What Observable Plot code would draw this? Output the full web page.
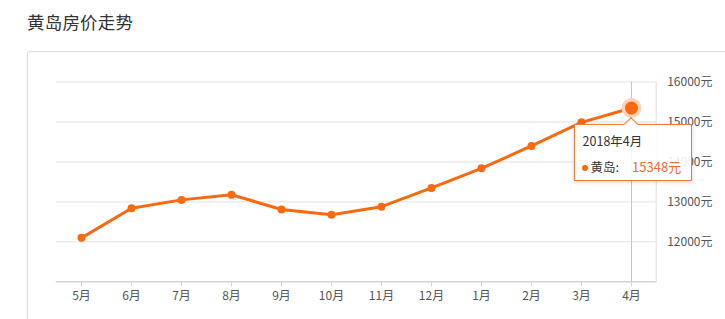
<!DOCTYPE html>
<html>
<head>
<meta charset="utf-8">
<script src="https://cdn.jsdelivr.net/npm/d3@7"></script>
<script src="https://cdn.jsdelivr.net/npm/@observablehq/plot@0.6"></script>
<style>
  html, body { margin: 0; padding: 0; background: #fff; }
  body { width: 725px; height: 319px; overflow: hidden; font-family: "Noto Sans CJK SC", "Noto Sans", sans-serif; }
  #wrap { position: relative; width: 725px; height: 319px; overflow: hidden; }
  #title { position: absolute; left: 27px; top: 9px; font-size: 17.5px; color: #333; line-height: 26px; letter-spacing: 0.2px; }
  #frame { position: absolute; left: 27px; top: 51px; width: 760px; height: 320px; border: 1px solid #dcdcdc; border-radius: 3px; box-sizing: border-box; }
  #chart { position: absolute; left: 0; top: 0; }
  #chart svg { overflow: visible; }
  #tip { position: absolute; width: 118px; height: 57px; box-sizing: border-box; border: 1px solid #ec7b3c; background: rgba(255,255,255,0.9); box-shadow: 0 1px 4px rgba(0,0,0,0.18); font-size: 12.5px; color: #333; }
  #tip .arrow { position: absolute; width: 9px; height: 9px; background: #fff; border-left: 1px solid #ec7b3c; border-top: 1px solid #ec7b3c; transform: rotate(45deg); top: -6px; }
  #tip .l1 { position: absolute; left: 8px; top: 7px; line-height: 18px; }
  #tip .l2 { position: absolute; left: 7px; top: 33px; line-height: 18px; white-space: nowrap; }
  #tip .dot { display: inline-block; width: 6px; height: 6px; border-radius: 3px; background: #f96a0f; vertical-align: middle; margin-right: 3px; position: relative; top: -1px; }
  #tip .val { color: #ee6a3a; margin-left: 13px; font-size: 13px; }
</style>
</head>
<body>
<div id="wrap">
  <div id="title">黄岛房价走势</div>
  <div id="frame"></div>
  <div id="chart"></div>
</div>
<script>
const months = ["5月","6月","7月","8月","9月","10月","11月","12月","1月","2月","3月","4月"];
const prices = [12100, 12840, 13050, 13180, 12810, 12680, 12880, 13350, 13840, 14400, 14990, 15348];
const yTicks = [12000, 13000, 14000, 15000, 16000];
const yBase = 11000;
const yTop = 16000;
const seriesName = "黄岛";
const tipDate = "2018年4月";
const unit = "元";

const data = months.map((m, i) => ({month: m, price: prices[i]}));
const last = data[data.length - 1];
const lineColor = "#f96a0f";

const chart = Plot.plot({
  width: 725,
  height: 319,
  marginLeft: 55.7,
  marginRight: 69.3,
  marginTop: 81.5,
  marginBottom: 37.7,
  style: {fontFamily: '"Noto Sans CJK SC", "Noto Sans", sans-serif', background: "transparent"},
  x: {type: "point", domain: months, padding: 0.5},
  y: {domain: [yBase, yTop]},
  marks: [
    Plot.gridY(yTicks, {stroke: "#e2e2e2", strokeOpacity: 1}),
    Plot.frame({anchor: "right", stroke: "#dedede"}),
    Plot.ruleX([last], {x: "month", stroke: "#c4c4c4", strokeWidth: 1}),
    Plot.ruleY([yBase], {stroke: "#d3d3d3", strokeWidth: 1.6}),
    Plot.axisX({tickSize: 5, tickPadding: 5, stroke: "#d3d3d3", color: "#555", fontSize: 12, label: null}),
    Plot.axisY(yTicks, {anchor: "right", tickSize: 0, tickPadding: 11, tickFormat: d => d + unit, color: "#555", fontSize: 12, label: null}),
    Plot.line(data, {x: "month", y: "price", stroke: lineColor, strokeWidth: 3}),
    Plot.dot(data, {x: "month", y: "price", r: 4, fill: lineColor}),
    Plot.dot([last], {x: "month", y: "price", r: 10, fill: "#fbd2b8"}),
    Plot.dot([last], {x: "month", y: "price", r: 6.5, fill: lineColor})
  ]
});
document.getElementById("chart").appendChild(chart);

// Tooltip anchored to the last point through the plot scales
const px = chart.scale("x").apply(last.month);
const py = chart.scale("y").apply(last.price);
const tip = document.createElement("div");
tip.id = "tip";
tip.style.left = (px - 57.4) + "px";
tip.style.top = (py + 16.5) + "px";
tip.innerHTML = `<div class="arrow" style="left:${57.4 - 5.5}px"></div>
  <div class="l1">${tipDate}</div>
  <div class="l2"><span class="dot"></span>${seriesName}:<span class="val">${last.price}${unit}</span></div>`;
document.getElementById("wrap").appendChild(tip);
</script>
</body>
</html>
